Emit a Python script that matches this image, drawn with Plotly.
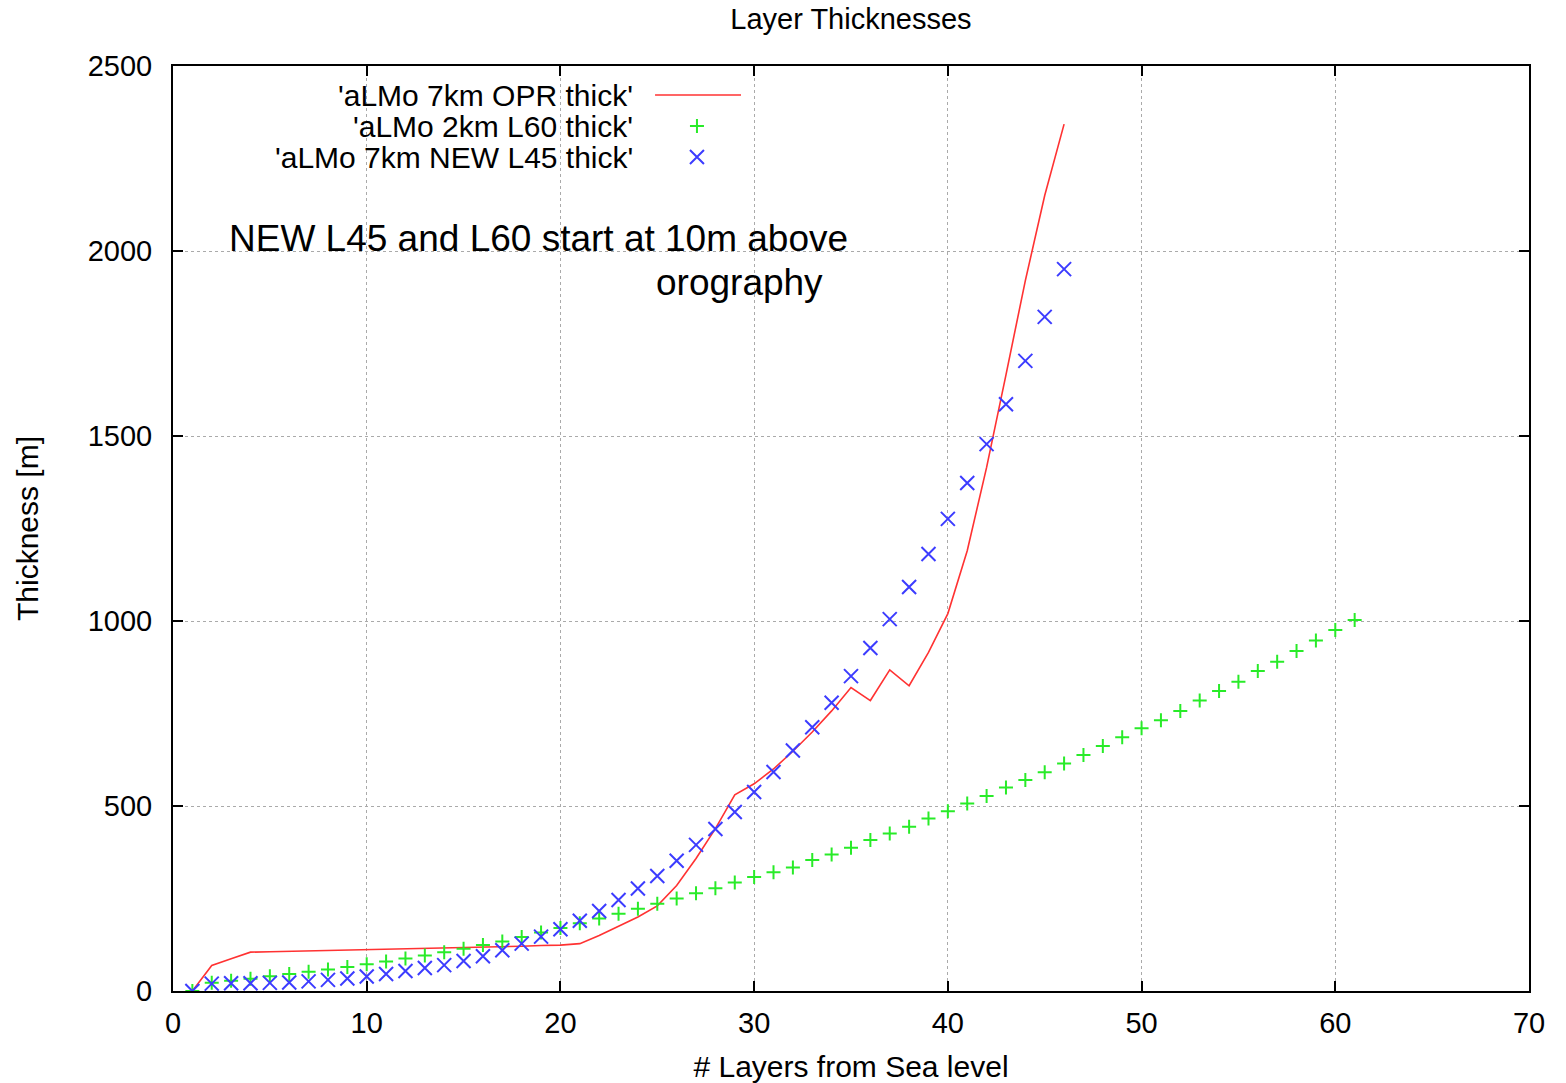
import plotly.graph_objects as go

# ---- data ----
layers_opr = list(range(1, 47))
thick_opr = [0, 69, 87, 105, 106, 107, 108, 109, 110, 111, 112, 114, 115, 116, 117, 119,
             120, 121, 123, 124, 128, 150, 175, 200, 230, 285, 358, 439, 530, 560, 600,
             648, 700, 757, 820, 785, 868, 825, 915, 1020, 1190, 1415, 1665, 1920, 2150, 2343]

layers_l60 = list(range(1, 62))
thick_l60 = [0, 22, 28, 33, 40, 46, 52, 58, 65, 72, 80, 88, 96, 105, 114, 124, 134, 146,
             158, 170, 183, 196, 209, 222, 236, 250, 264, 278, 293, 308, 321, 334, 354,
             369, 387, 408, 426, 444, 466, 486, 507, 527, 550, 570, 591, 615, 638, 662,
             686, 710, 732, 757, 785, 811, 836, 865, 890, 919, 947, 976, 1003]

layers_l45 = list(range(1, 47))
thick_l45 = [0, 20, 21, 21, 22, 23, 26, 30, 34, 39, 46, 54, 62, 70, 81, 94, 110, 128, 147,
             167, 190, 216, 246, 277, 311, 352, 395, 438, 484, 538, 592, 650, 713, 779,
             851, 927, 1005, 1092, 1181, 1276, 1373, 1478, 1586, 1703, 1822, 1951]

series_names = ["'aLMo 7km OPR thick'", "'aLMo 2km L60 thick'", "'aLMo 7km NEW L45 thick'"]
x_ticks = [0, 10, 20, 30, 40, 50, 60, 70]
y_ticks = [0, 500, 1000, 1500, 2000, 2500]

RED = "rgb(255,50,50)"
GREEN = "rgb(40,235,40)"
BLUE = "rgb(60,60,255)"
FONT = "Liberation Sans, Arial, sans-serif"

fig = go.Figure()
fig.add_trace(go.Scatter(x=layers_opr, y=thick_opr, mode="lines",
                         line=dict(color=RED, width=1.6), name=series_names[0]))
fig.add_trace(go.Scatter(x=layers_l60, y=thick_l60, mode="markers",
                         marker=dict(symbol="cross-thin", size=10,
                                     line=dict(color=GREEN, width=2)),
                         name=series_names[1]))
fig.add_trace(go.Scatter(x=layers_l45, y=thick_l45, mode="markers",
                         marker=dict(symbol="x-thin", size=14,
                                     line=dict(color=BLUE, width=2)),
                         name=series_names[2]))

# custom legend samples (text left, sample right, as in gnuplot)
leg_y = [0.9686, 0.9351, 0.9016]
leg_text_x = 0.3405
sample_x = 0.3864
fig.add_trace(go.Scatter(x=[sample_x], y=[leg_y[1]], xaxis="x2", yaxis="y2", mode="markers",
                         marker=dict(symbol="cross-thin", size=10, line=dict(color=GREEN, width=2)),
                         showlegend=False, hoverinfo="skip"))
fig.add_trace(go.Scatter(x=[sample_x], y=[leg_y[2]], xaxis="x2", yaxis="y2", mode="markers",
                         marker=dict(symbol="x-thin", size=14, line=dict(color=BLUE, width=2)),
                         showlegend=False, hoverinfo="skip"))
fig.add_shape(type="line", xref="paper", yref="paper", x0=0.3555, x1=0.4189,
              y0=leg_y[0], y1=leg_y[0], line=dict(color=RED, width=1.6))

annotations = []
for name, yy in zip(series_names, leg_y):
    annotations.append(dict(text=name, xref="paper", yref="paper", x=leg_text_x, y=yy,
                            xanchor="right", yanchor="middle", showarrow=False,
                            font=dict(family=FONT, size=30, color="black")))
annotations.append(dict(text="NEW L45 and L60 start at 10m above", xref="paper", yref="paper",
                        x=0.040, y=0.8140, xanchor="left", yanchor="middle", showarrow=False,
                        font=dict(family=FONT, size=37, color="black")))
annotations.append(dict(text="orography", xref="paper", yref="paper",
                        x=0.3545, y=0.7655, xanchor="left", yanchor="middle", showarrow=False,
                        font=dict(family=FONT, size=37, color="black")))

axis_common = dict(showline=True, linecolor="black", linewidth=2, mirror="allticks",
                   ticks="inside", ticklen=10, tickwidth=2, tickcolor="black",
                   showgrid=True, gridcolor="rgb(170,170,170)", griddash="dot", gridwidth=1,
                   zeroline=False, automargin=False,
                   tickfont=dict(family=FONT, size=29, color="black"))

fig.update_layout(
    width=1566, height=1083,
    margin=dict(l=173, r=37, t=66, b=92, autoexpand=False),
    paper_bgcolor="white", plot_bgcolor="white",
    showlegend=False,
    title=dict(text="Layer Thicknesses", x=0.5434, xanchor="center", y=0.9825, yanchor="middle",
               yref="container", font=dict(family=FONT, size=29, color="black")),
    xaxis=dict(range=[0, 70], tickvals=x_ticks, ticklabelstandoff=5,
               title=dict(text="# Layers from Sea level", standoff=18,
                          font=dict(family=FONT, size=30, color="black")),
               **axis_common),
    yaxis=dict(range=[0, 2500], tickvals=y_ticks, ticklabelstandoff=13,
               title=dict(text="Thickness [m]", standoff=40,
                          font=dict(family=FONT, size=30, color="black")),
               **axis_common),
    xaxis2=dict(range=[0, 1], overlaying="x", visible=False, fixedrange=True),
    yaxis2=dict(range=[0, 1], overlaying="y", visible=False, fixedrange=True),
    annotations=annotations,
)

fig.write_html("out.html", config={"displayModeBar": False},
               post_script="document.body.style.margin='0px';")
